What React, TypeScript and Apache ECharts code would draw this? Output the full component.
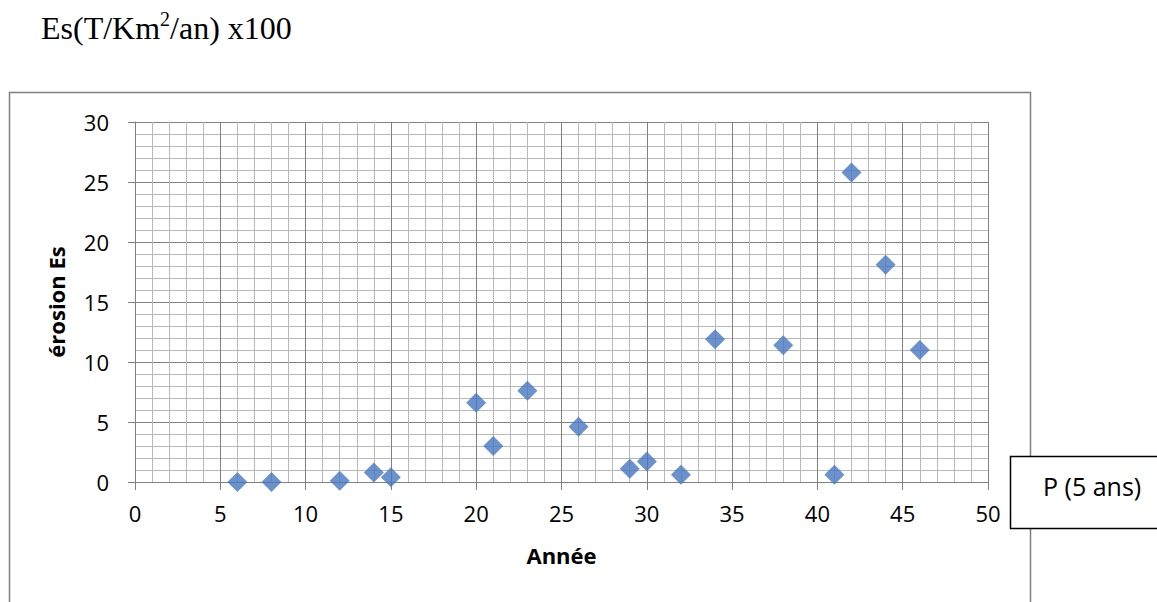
import React, { useEffect, useRef } from "react";
import * as echarts from "echarts";

const years = [6, 8, 12, 14, 15, 20, 21, 23, 26, 29, 30, 32, 34, 38, 41, 42, 44, 46];
const erosion = [0.0, 0.0, 0.1, 0.8, 0.4, 6.6, 3.0, 7.6, 4.6, 1.1, 1.7, 0.6, 11.9, 11.4, 0.6, 25.8, 18.1, 11.0];
const seriesName = "P (5 ans)";
const xTitle = "Année";
const yTitle = "érosion Es";

export default function App() {
  const ref = useRef<HTMLDivElement>(null);
  useEffect(() => {
    if (!ref.current) return;
    const chart = echarts.init(ref.current, null, { renderer: "svg" });
    const font = "'Open Sans', sans-serif";
    const serif = "'Liberation Serif', 'Times New Roman', serif";
    const major = "#808080";
    const minor = "#b8b8b8";
    chart.setOption({
      animation: false,
      backgroundColor: "#ffffff",
      grid: { left: 135, right: 169, top: 122, bottom: 120, containLabel: false },
      xAxis: {
        type: "value",
        min: 0,
        max: 50,
        interval: 5,
        name: xTitle,
        nameLocation: "middle",
        nameGap: 62,
        nameTextStyle: { fontFamily: font, fontSize: 22, fontWeight: "bold", color: "#000" },
        axisLine: { show: true, onZero: false, lineStyle: { color: major, width: 1 } },
        axisTick: { show: true, inside: false, length: 8, lineStyle: { color: major } },
        axisLabel: { margin: 20, fontFamily: font, fontSize: 22, color: "#000" },
        splitLine: { show: true, lineStyle: { color: major, width: 1 } },
        minorTick: { show: false, splitNumber: 5 },
        minorSplitLine: { show: true, lineStyle: { color: minor, width: 1 } },
      },
      yAxis: {
        type: "value",
        min: 0,
        max: 30,
        interval: 5,
        name: yTitle,
        nameLocation: "middle",
        nameGap: 68,
        nameRotate: 90,
        nameTextStyle: { fontFamily: font, fontSize: 22, fontWeight: "bold", color: "#000" },
        axisLine: { show: true, lineStyle: { color: major, width: 1 } },
        axisTick: { show: true, inside: false, length: 7, lineStyle: { color: major } },
        axisLabel: { margin: 26, fontFamily: font, fontSize: 22, color: "#000" },
        splitLine: { show: true, lineStyle: { color: major, width: 1 } },
        minorTick: { show: false, splitNumber: 5 },
        minorSplitLine: { show: true, lineStyle: { color: minor, width: 1 } },
      },
      legend: {
        data: [{ name: seriesName, icon: "none" }],
        left: 1038,
        top: 471,
        padding: 0,
        itemWidth: 0,
        itemHeight: 30,
        itemGap: 0,
        selectedMode: false,
        textStyle: { fontFamily: font, fontSize: 25, color: "#000", lineHeight: 30, padding: 0 },
      },
      graphic: [
        {
          type: "rect",
          shape: { x: 9.5, y: 92.5, width: 1021, height: 540 },
          style: { fill: "none", stroke: major, lineWidth: 1.5 },
          silent: true,
          z: -1,
        },
        {
          type: "rect",
          shape: { x: 1010.5, y: 456.5, width: 180, height: 72 },
          style: { fill: "#fff", stroke: "#000", lineWidth: 1.5 },
          silent: true,
          z: 0,
        },
        {
          type: "text",
          left: 41,
          top: 9,
          style: {
            text: "{a|Es(T/Km}{s|2}{a|/an) x100}",
            rich: {
              a: { fontFamily: serif, fontSize: 32, fill: "#000", lineHeight: 40, verticalAlign: "bottom" },
              s: { fontFamily: serif, fontSize: 20, fill: "#000", lineHeight: 40, verticalAlign: "bottom", padding: [0, 0, 15, 0] },
            },
          },
          z: 10,
        },
      ],
      series: [
        {
          name: seriesName,
          type: "scatter",
          symbol: "diamond",
          symbolSize: 20,
          itemStyle: { color: "#4677bf", borderWidth: 0 },
          data: years.map((y, i) => [y, erosion[i]]),
          z: 5,
        },
      ],
    });
    return () => chart.dispose();
  }, []);
  return (
    <div
      ref={ref}
      style={{ position: "fixed", left: 0, top: 0, width: 1157, height: 602, background: "#fff" }}
    />
  );
}
